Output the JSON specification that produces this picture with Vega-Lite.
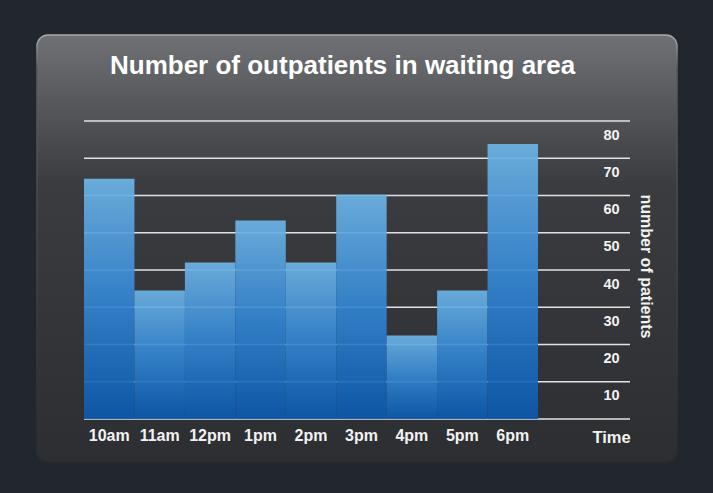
{
  "$schema": "https://vega.github.io/schema/vega-lite/v6.json",
  "width": 640,
  "height": 427,
  "autosize": {"type": "none"},
  "padding": {"left": 37, "top": 35, "right": 36, "bottom": 31},
  "background": "#22272e",
  "config": {
    "font": "Liberation Sans",
    "view": {
      "cornerRadius": 11,
      "fill": {"gradient": "linear", "x1": 0, "y1": 0, "x2": 0, "y2": 1, "stops": [
        {"offset": 0, "color": "#6f7174"},
        {"offset": 0.2, "color": "#505256"},
        {"offset": 0.35, "color": "#3b3c3f"},
        {"offset": 1, "color": "#2d2e31"}
      ]},
      "stroke": {"gradient": "linear", "x1": 0, "y1": 0, "x2": 0, "y2": 1, "stops": [
        {"offset": 0, "color": "#a8aaac"},
        {"offset": 0.08, "color": "#5a5c5f"},
        {"offset": 1, "color": "#2a2b2e"}
      ]},
      "strokeWidth": 1.5
    }
  },
  "title": {
    "text": "Number of outpatients in waiting area",
    "anchor": "start",
    "frame": "group",
    "dx": 73,
    "offset": -44,
    "fontSize": 26,
    "fontWeight": "bold",
    "color": "#ffffff",
    "font": "Liberation Sans"
  },
  "layer": [
    {
      "data": {"values": [
        {"level": 0}, {"level": 10}, {"level": 20}, {"level": 30}, {"level": 40},
        {"level": 50}, {"level": 60}, {"level": 70}, {"level": 80}
      ]},
      "mark": {"type": "rule", "color": "#e2e2e2", "strokeWidth": 1.5},
      "encoding": {
        "y": {
          "field": "level",
          "type": "quantitative",
          "scale": {"domain": [0, 80], "range": [384, 86], "nice": false, "zero": true},
          "axis": {
            "orient": "right",
            "offset": -74,
            "values": [10, 20, 30, 40, 50, 60, 70, 80],
            "grid": false,
            "domain": false,
            "ticks": false,
            "labelPadding": 0,
            "labelAlign": "left",
            "labelBaseline": "middle",
            "labelOffset": 14,
            "labelFontSize": 14.5,
            "labelFontWeight": "bold",
            "labelColor": "#f2f2f2",
            "labelFont": "Liberation Sans",
            "title": "number of patients",
            "titleAngle": 90,
            "titleX": 42,
            "titleY": 231,
            "titleAlign": "center",
            "titleBaseline": "middle",
            "titleFontSize": 16,
            "titleFontWeight": "bold",
            "titleColor": "#f2f2f2",
            "titleFont": "Liberation Sans"
          }
        },
        "x": {"datum": 0, "type": "quantitative", "scale": {"domain": [0, 1], "range": [47, 593]}, "axis": null},
        "x2": {"datum": 1}
      }
    },
    {
      "data": {"values": [
        {"time": "10am", "patients": 64.5},
        {"time": "11am", "patients": 34.5},
        {"time": "12pm", "patients": 42},
        {"time": "1pm", "patients": 53.3},
        {"time": "2pm", "patients": 42},
        {"time": "3pm", "patients": 60.2},
        {"time": "4pm", "patients": 22.4},
        {"time": "5pm", "patients": 34.5},
        {"time": "6pm", "patients": 73.8}
      ]},
      "mark": {
        "type": "bar",
        "fillOpacity": 0.92,
        "fill": {"gradient": "linear", "x1": 0, "y1": 0, "x2": 0, "y2": 1, "stops": [
          {"offset": 0, "color": "#6db4e6"},
          {"offset": 0.5, "color": "#3385d2"},
          {"offset": 1, "color": "#0b59ae"}
        ]}
      },
      "encoding": {
        "x": {
          "field": "time",
          "type": "nominal",
          "sort": null,
          "scale": {"range": [47, 501], "paddingInner": 0, "paddingOuter": 0},
          "axis": {
            "orient": "bottom",
            "offset": -43,
            "domain": false,
            "ticks": false,
            "grid": false,
            "labelAngle": 0,
            "labelPadding": 8,
            "labelFontSize": 16,
            "labelFontWeight": "bold",
            "labelColor": "#f2f2f2",
            "labelFont": "Liberation Sans",
            "title": "Time",
            "titleX": 574,
            "titleY": 18,
            "titleAlign": "center",
            "titleBaseline": "middle",
            "titleFontSize": 16.5,
            "titleFontWeight": "bold",
            "titleColor": "#f2f2f2",
            "titleFont": "Liberation Sans"
          }
        },
        "y": {"field": "patients", "type": "quantitative"}
      }
    }
  ],
  "resolve": {"scale": {"x": "independent"}}
}
